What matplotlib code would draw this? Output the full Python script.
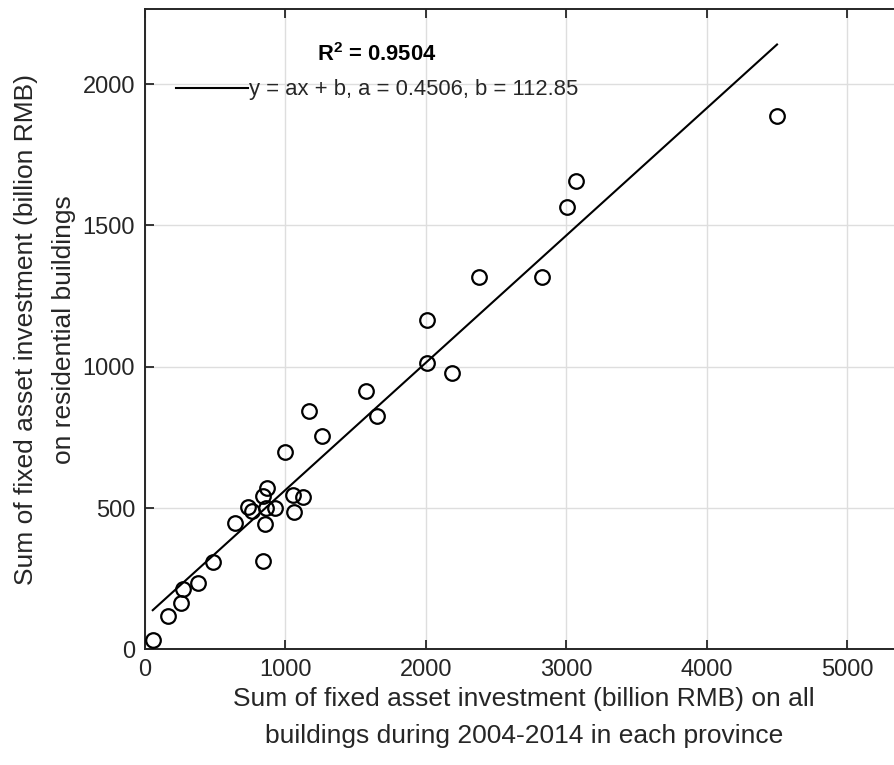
import matplotlib
matplotlib.use("Agg")
import matplotlib.pyplot as plt
import numpy as np

# Data (billion RMB)
total_invest = [57, 164, 256, 270, 377, 484, 643, 733, 761, 840, 868, 861, 927, 856, 840,
                999, 1053, 1125, 1063, 1172, 1264, 1573, 1651,
                4500, 3072, 3006, 2377, 2826, 2007, 2007, 2187]
resid_invest = [32, 118, 165, 213, 236, 310, 448, 503, 490, 543, 570, 501, 501, 442, 312,
                699, 546, 538, 487, 844, 755, 914, 825,
                1887, 1656, 1565, 1318, 1316, 1164, 1013, 977]
fit_a = 0.4506
fit_b = 112.85
r_squared = 0.9504
x_ticks = [0, 1000, 2000, 3000, 4000, 5000]
y_ticks = [0, 500, 1000, 1500, 2000]

plt.rcParams['font.family'] = ['Liberation Sans', 'DejaVu Sans']
plt.rcParams['mathtext.fontset'] = 'custom'
plt.rcParams['mathtext.rm'] = 'Liberation Sans'
plt.rcParams['mathtext.bf'] = 'Liberation Sans:bold'

fig = plt.figure(figsize=(8.94, 7.65), dpi=100)
ax = fig.add_axes([0.1619, 0.1512, 0.8487, 0.8366])

dark = '#262626'
x = np.array(total_invest)
y = np.array(resid_invest)
xf = np.array([x.min(), x.max()])
yf = fit_a * xf + fit_b

ax.plot(x, y, 'o', ms=10.5, mfc='none', mec='black', mew=1.6, zorder=3)
line, = ax.plot(xf, yf, '-', color='black', lw=1.5, zorder=3,
                label=f'y = ax + b, a = {fit_a}, b = {fit_b}')

ax.set_xlim(0, 5400)
ax.set_ylim(0, 2265)
ax.set_xticks(x_ticks)
ax.set_yticks(y_ticks)
ax.grid(True, color='#dedede', lw=1.0)
ax.set_axisbelow(True)
ax.tick_params(direction='in', length=6.5, width=1.3, colors=dark, labelsize=17,
               top=True, right=True, pad=7)
for s in ax.spines.values():
    s.set_color(dark)
    s.set_linewidth(1.4)

ax.set_xlabel('Sum of fixed asset investment (billion RMB) on all\nbuildings during 2004-2014 in each province',
              fontsize=19, color=dark, linespacing=1.7, labelpad=4)
ax.set_ylabel('Sum of fixed asset investment (billion RMB)\non residential buildings',
              fontsize=19, color=dark, linespacing=1.7, labelpad=5)

ax.text(0.306, 0.9286, r'$\mathbf{R^2}$ = 0.9504', transform=ax.transAxes,
        ha='center', va='center', fontsize=15.8, fontweight='bold', color='black')

leg = ax.legend(handles=[line], loc='center left', bbox_to_anchor=(0.0413, 0.874),
                frameon=False, fontsize=15.8, handlelength=3.3, handletextpad=0.02,
                borderpad=0, borderaxespad=0)
for t in leg.get_texts():
    t.set_color(dark)

fig.savefig('out.png', dpi=100)
